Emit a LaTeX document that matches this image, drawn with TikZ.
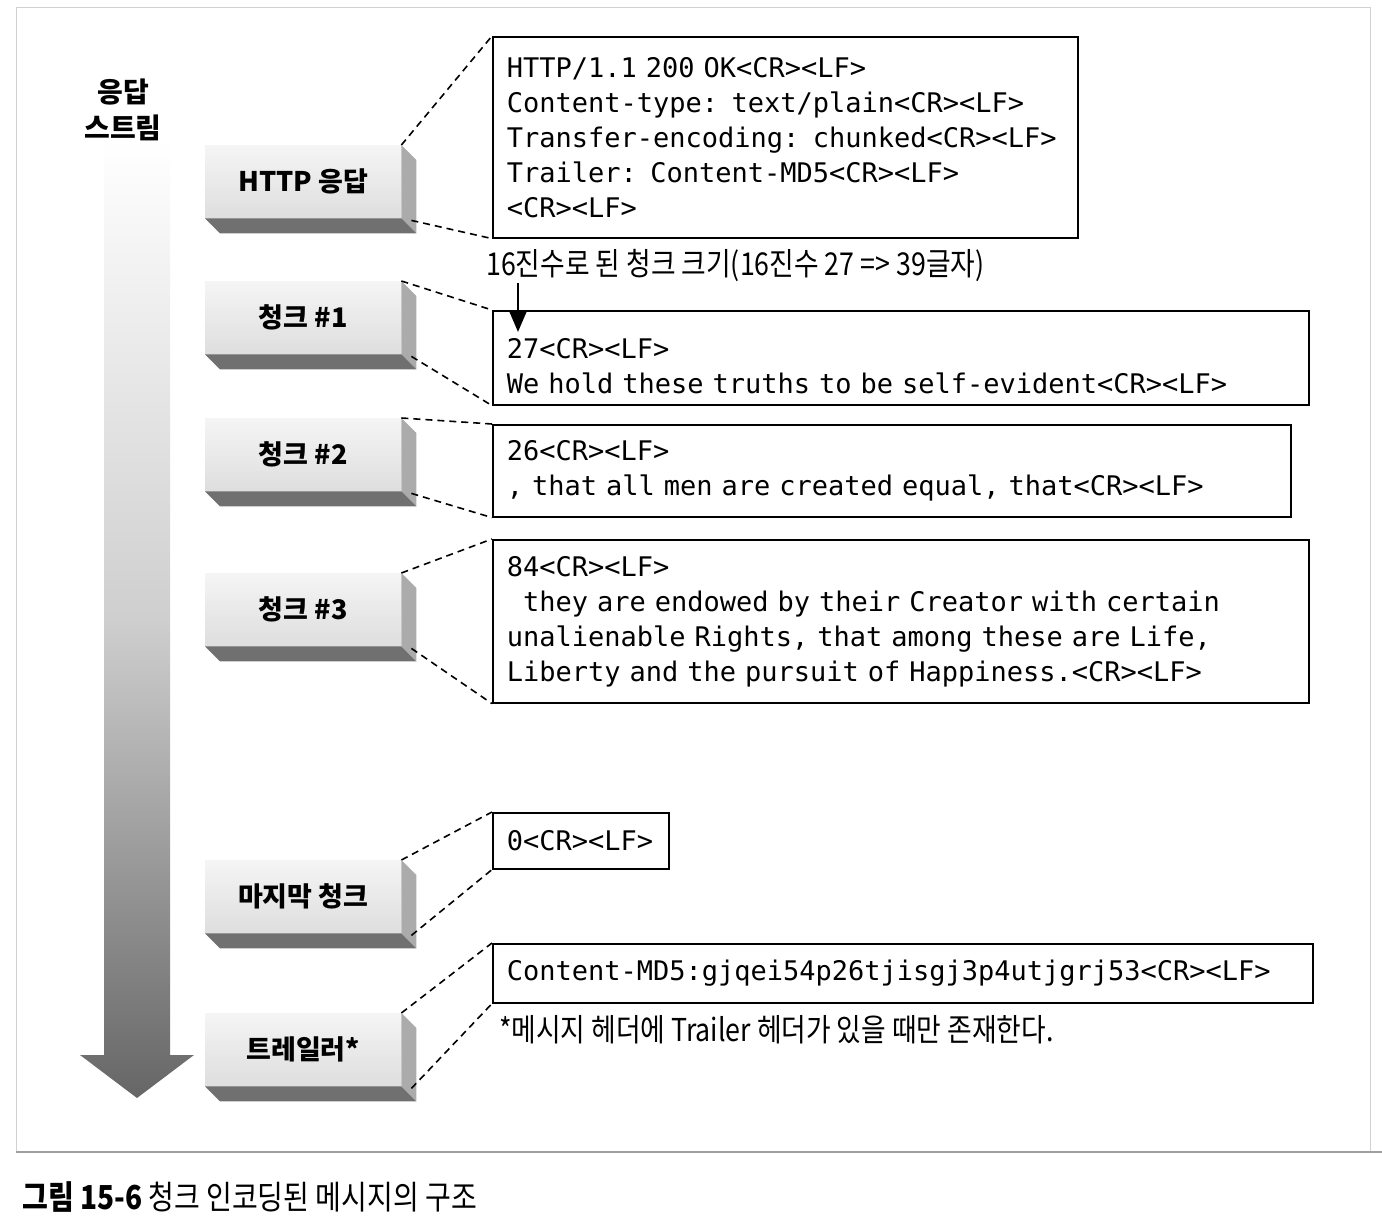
\documentclass[tikz,border=0pt]{standalone}
\usepackage{fontspec}
\setmainfont{Noto Sans CJK KR}
\newfontfamily\krcond{Noto Sans CJK KR}[FakeStretch=0.85]
\newfontfamily\monofont{DejaVu Sans Mono}
\usetikzlibrary{arrows.meta,calc}
\tikzset{
  block/.style={
    anchor=north west,
    minimum width=196pt,
    minimum height=73pt,
    inner sep=0pt,
    top color=gray!8,
    bottom color=gray!26,
    font=\bfseries\fontsize{27}{30}\selectfont
  },
  sideface/.style={fill=black!33},
  bottomface/.style={fill=black!56},
  msgbox/.style={
    draw,
    anchor=north west,
    line width=1.6pt,
    align=left,
    inner xsep=14pt,
    inner ysep=0pt,
    font=\monofont\fontsize{27}{35}\selectfont
  },
  lead/.style={dash pattern=on 7pt off 5pt, line width=1.6pt},
  note/.style={anchor=west, inner sep=2pt, font=\krcond\fontsize{31.5}{34}\selectfont},
  sizearrow/.style={-{Triangle[length=22pt,width=18pt]}, line width=2.8pt}
}

\begin{document}
\begin{tikzpicture}[x=1pt, y=-1pt]
  \useasboundingbox (0,0) rectangle (1382,1228);

  % figure frame
  \draw[gray!35, line width=1pt] (16,1152) -- (16,8) -- (1370,8) -- (1370,1152);
  \draw[gray!75, line width=1.4pt] (16,1152) -- (1382,1152);

  % response stream arrow
  \shade[top color=white, bottom color=black!60, middle color=gray!38]
    (104,140) -- (170,140) -- (170,1055) -- (194,1055) -- (137,1098)
    -- (80,1055) -- (104,1055) -- cycle;
  \node[font=\bfseries\fontsize{28}{36}\selectfont, align=center] (streamlbl) at (123,110) {응답\\스트림};

  % blocks
  \node[block] (hdrblk) at (205,145) {HTTP 응답};
  \node[block] (c1blk) at (205,281) {청크 \#1};
  \node[block] (c2blk) at (205,418) {청크 \#2};
  \node[block] (c3blk) at (205,573) {청크 \#3};
  \node[block] (lastblk) at (205,860) {마지막 청크};
  \node[block] (trlblk) at (205,1013) {트레일러*};

  \foreach \b in {hdrblk,c1blk,c2blk,c3blk,lastblk,trlblk}{
    \fill[sideface] (\b.north east) -- ++(15,15) -- ($(\b.south east)+(15,15)$) -- (\b.south east) -- cycle;
    \fill[bottomface] (\b.south west) -- (\b.south east) -- ++(15,15) -- ($(\b.south west)+(15,15)$) -- cycle;
  }

  % message parts
  \node[msgbox, text width=557pt, minimum height=201pt] (hdrbox) at (492,36)
    {HTTP/1.1 200 OK<CR><LF>\\Content-type: text/plain<CR><LF>\\Transfer-encoding: chunked<CR><LF>\\Trailer: Content-MD5<CR><LF>\\<CR><LF>};
  \node[msgbox, text width=788pt, minimum height=94pt] (c1box) at (492,310)
    {\rule{0pt}{36pt}27<CR><LF>\\We hold these truths to be self-evident<CR><LF>};
  \node[msgbox, text width=770pt, minimum height=92pt] (c2box) at (492,424)
    {26<CR><LF>\\, that all men are created equal, that<CR><LF>};
  \node[msgbox, text width=788pt, minimum height=163pt] (c3box) at (492,539)
    {84<CR><LF>\\\hphantom{0}they are endowed by their Creator with certain\\unalienable Rights, that among these are Life,\\Liberty and the pursuit of Happiness.<CR><LF>};
  \node[msgbox, text width=148pt, minimum height=56pt] (lastbox) at (492,812)
    {0<CR><LF>};
  \node[msgbox, text width=792pt, minimum height=59pt] (trlbox) at (492,943)
    {Content-MD5:gjqei54p26tjisgj3p4utjgrj53<CR><LF>};

  % notes
  \node[note] (sizelbl) at (484,265) {16진수로 된 청크 크기(16진수 27 => 39글자)};
  \node[note] (trlnote) at (497,1030) {*메시지 헤더에 Trailer 헤더가 있을 때만 존재한다.};
  \draw[sizearrow] ($(sizelbl.south west)+(34,0)$) -- ($(c1box.north west)+(26,22)$);

  % leader lines
  \foreach \b/\m in {hdrblk/hdrbox,c1blk/c1box,c2blk/c2box,c3blk/c3box,lastblk/lastbox,trlblk/trlbox}{
    \draw[lead] (\b.north east) -- (\m.north west);
    \draw[lead] ($(\b.south east)+(10,2)$) -- (\m.south west);
  }

  % caption
  \node[note, font=\krcond\fontsize{33}{36}\selectfont] (caption) at (20,1197) {{\bfseries 그림 15-6} 청크 인코딩된 메시지의 구조};
\end{tikzpicture}
\end{document}
